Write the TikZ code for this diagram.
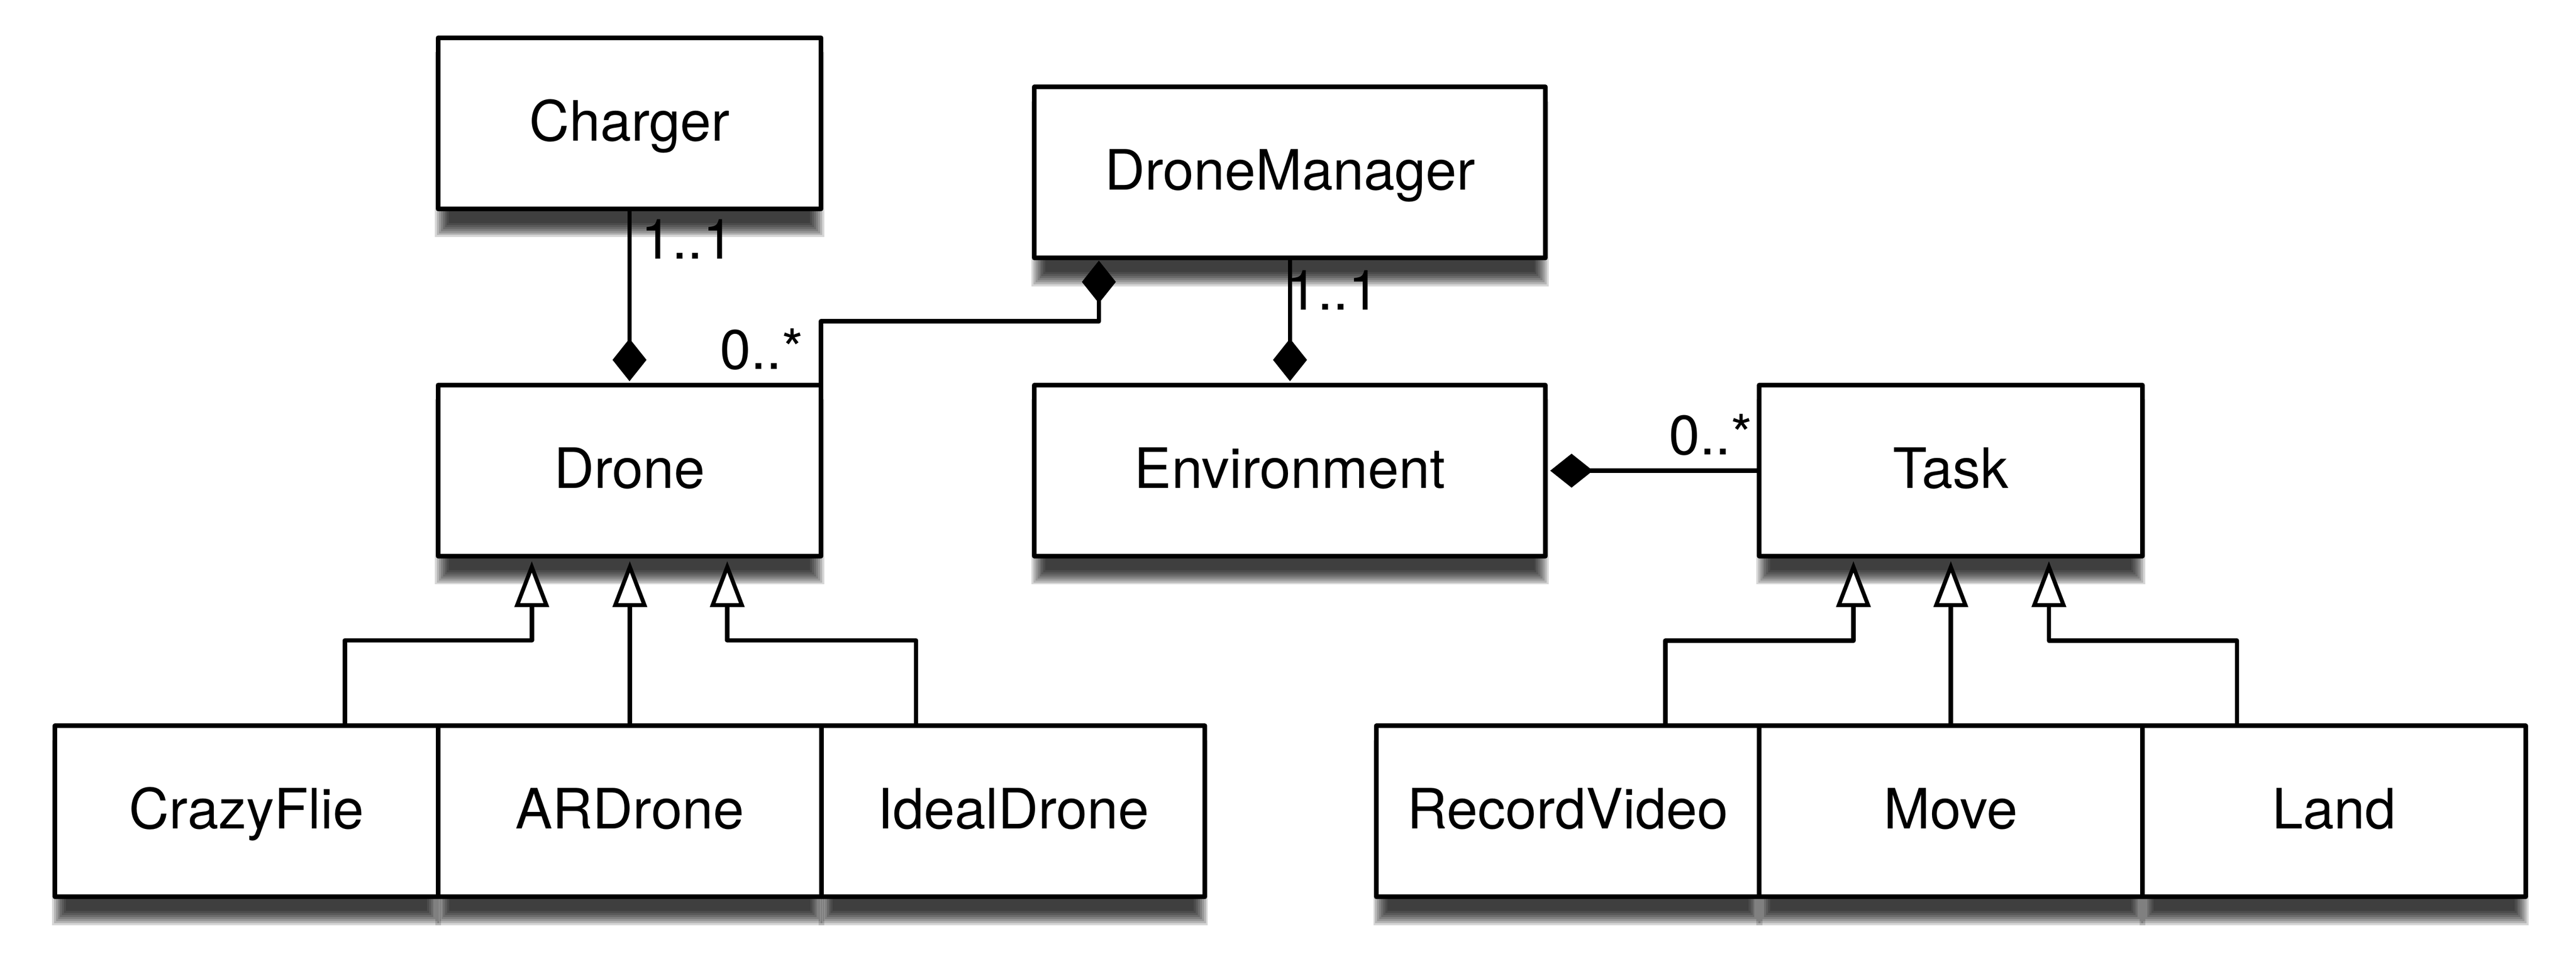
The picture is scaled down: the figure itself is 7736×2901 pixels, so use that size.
\documentclass[tikz,border=0pt]{standalone}
\usepackage{fontspec}
\setmainfont{TeX Gyre Heros}
\usetikzlibrary{arrows.meta,calc}
\pgfdeclarelayer{bg}
\pgfsetlayers{bg,main}
\begin{document}
\begin{tikzpicture}[x=0.01cm,y=-0.01cm,
  cls/.style={draw, fill=white, line width=0.14cm, line join=round, inner sep=0pt, outer sep=0pt,
    minimum height=5.13cm, text height=1.19cm, text depth=0.14cm, font=\fontsize{47.5}{57}\selectfont},
  small/.style={cls, minimum width=11.5cm},
  wide/.style={cls, minimum width=15.34cm},
  conn/.style={line width=0.135cm, line join=round},
  comp/.style={conn, -{Diamond[length=1.28cm,width=1.02cm]}},
  inh/.style={conn, shorten >=0.15cm, -{Triangle[fill=white,length=1.38cm,width=1.02cm,line width=0.12cm]}},
  lbl/.style={inner sep=0pt, anchor=base west, font=\fontsize{47.5}{57}\selectfont}]
\useasboundingbox (0,0) rectangle (7736,2901);

% class boxes
\node[small] (charger) at (1890.5,370.5) {Charger};
\node[wide]  (dm)      at (3874,518)    {DroneManager};
\node[small] (drone)   at (1890.5,1413.5) {Drone};
\node[wide]  (env)     at (3874,1413.5)   {Environment};
\node[small] (task)    at (5858.5,1413.5) {Task};
\node[small] (cf)      at (740.5,2436.5)  {CrazyFlie};
\node[small] (ard)     at (1891.5,2436.5) {ARDrone};
\node[small] (ideal)   at (3043,2436.5)   {IdealDrone};
\node[small] (rv)      at (4708.5,2436.5) {RecordVideo};
\node[small] (move)    at (5858.5,2436.5) {Move};
\node[small] (land)    at (7009,2436.5)   {Land};

% shadows
\begin{pgfonlayer}{bg}
\fill[white] (0,0) rectangle (7736,2901);
\foreach \n in {charger,dm,drone,env,task,cf,ard,ideal,rv,move,land}{
  \foreach \k in {-21,-15,-9,-3,3,9,15,21}{
    \fill[black,opacity=0.155] ($(\n.north west)+(\k+12,\k+64)$) rectangle ($(\n.south east)+(-\k-12,-\k+64)$);
  }
}
\end{pgfonlayer}

% compositions
\draw[comp, shorten >=0.12cm] (charger.south) -- (drone.north);
\draw[comp, shorten >=0.12cm] (dm.south) -- (env.north);
\draw[comp, shorten >=0.14cm] (task.west) -- (env.east);
\coordinate (dmj) at (3300,965);
\draw[comp, shorten >=0.08cm] (drone.north east) |- (dmj) -- (dmj |- dm.south);

% generalizations (Drone)
\coordinate (dl) at (1597,1923);
\coordinate (dr) at (2184,1923);
\draw[inh] ($(cf.north)+(295,0)$) |- (dl) -- (dl |- drone.south);
\draw[inh] (ard.north) -- (ard.north |- drone.south);
\draw[inh] ($(ideal.north)+(-292,0)$) |- (dr) -- (dr |- drone.south);

% generalizations (Task)
\coordinate (tl) at (5566,1924);
\coordinate (tr) at (6153,1924);
\draw[inh] ($(rv.north)+(292.5,0)$) |- (tl) -- (tl |- task.south);
\draw[inh] (move.north) -- (task.south);
\draw[inh] ($(land.north)+(-291,0)$) |- (tr) -- (tr |- task.south);

% multiplicities
\node[lbl] (m1) at (1924,777)  {1..1};
\node[lbl] (m2) at (2161,1108) {0..*};
\node[lbl] (m3) at (3863,930)  {1..1};
\node[lbl] (m4) at (5012,1365) {0..*};
\end{tikzpicture}
\end{document}
